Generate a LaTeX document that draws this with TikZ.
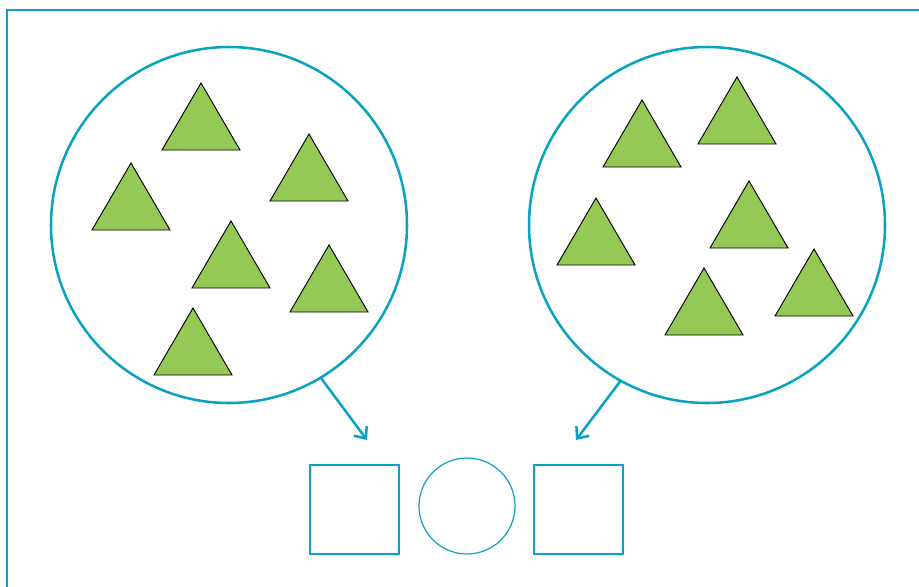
\documentclass[tikz,border=0pt]{standalone}
\usetikzlibrary{arrows.meta}
\definecolor{teal}{HTML}{0AA3BF}
\definecolor{leaf}{HTML}{93C954}
\tikzset{
  frame/.style={draw=teal, line width=1.3pt},
  bigcircle/.style={circle, draw=teal, line width=1.9pt, minimum size=267pt, inner sep=0pt, outer sep=0pt},
  smallbox/.style={rectangle, draw=teal, line width=0.9pt, minimum size=66.75pt, inner sep=0pt, outer sep=0pt},
  smallcircle/.style={circle, draw=teal, line width=0.9pt, minimum size=72pt, inner sep=0pt, outer sep=0pt},
  pointer/.style={draw=teal, line width=1.9pt, -{Straight Barb[length=7pt,width=12pt,line width=1.9pt]}},
  tri/.pic={\draw[fill=leaf, draw=black, line width=0.7pt, line join=miter] (0,0) -- (39,67) -- (-39,67) -- cycle;}
}
\begin{document}
\begin{tikzpicture}[x=0.75pt,y=-0.75pt]
\useasboundingbox (0,0) rectangle (919,586);
\draw[frame] (925,10) -- (7,10) -- (7,592);
\node[bigcircle] (L) at (229,225) {};
\node[bigcircle] (R) at (707,225) {};
% left triangles
\pic at (201,83) {tri};
\pic at (309,134) {tri};
\pic at (131,163) {tri};
\pic at (231,221) {tri};
\pic at (329,245) {tri};
\pic at (193,308) {tri};
% right triangles
\pic at (642,100) {tri};
\pic at (737,77) {tri};
\pic at (596,198) {tri};
\pic at (749,181) {tri};
\pic at (704,268) {tri};
\pic at (814,249) {tri};
% bottom shapes
\node[smallbox] (B1) at (354.5,509.5) {};
\node[smallcircle] (C1) at (467,506) {};
\node[smallbox] (B2) at (578.5,509.5) {};
% arrows
\coordinate (LA) at (367,440);
\coordinate (RA) at (576,440);
\draw[pointer] (L.-59.3) -- (LA);
\draw[pointer] (R.-119.1) -- (RA);
\end{tikzpicture}
\end{document}
